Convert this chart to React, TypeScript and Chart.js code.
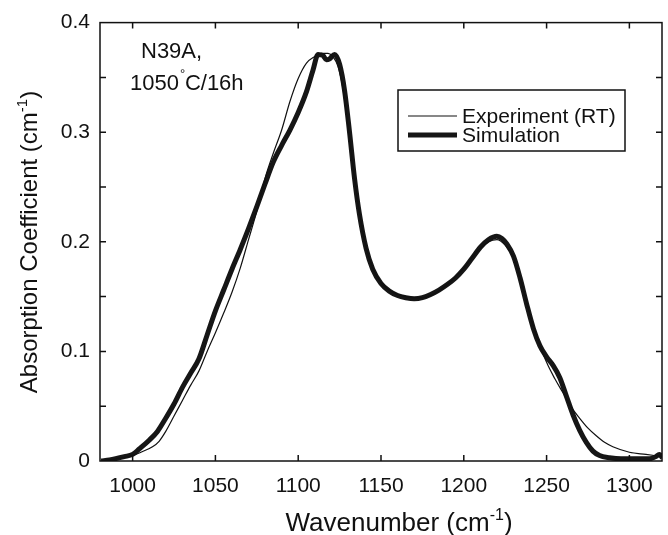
import React, { useEffect, useRef } from "react";
import { Chart, registerables } from "chart.js";

Chart.register(...registerables);

const xTicks = [1000, 1050, 1100, 1150, 1200, 1250, 1300];
const yTicks = [0, 0.1, 0.2, 0.3, 0.4];
const yTickMarks = [0.05, 0.1, 0.15, 0.2, 0.25, 0.3, 0.35];

const simX = [981, 986, 995, 1000, 1004, 1010, 1015, 1020, 1025, 1030, 1035, 1040, 1045, 1050, 1055, 1060, 1065, 1070, 1075, 1080, 1085, 1090, 1095, 1100, 1105, 1109, 1112, 1115, 1117, 1119, 1122, 1125, 1128, 1131, 1134, 1137, 1141, 1145, 1150, 1155, 1160, 1165, 1170, 1175, 1180, 1185, 1190, 1195, 1200, 1205, 1210, 1215, 1220, 1223, 1226, 1230, 1234, 1238, 1242, 1246, 1250, 1254, 1258, 1262, 1266, 1270, 1274, 1278, 1282, 1288, 1295, 1305, 1312, 1316, 1318, 1320];
const simY = [0, 0.001, 0.004, 0.006, 0.011, 0.019, 0.027, 0.039, 0.052, 0.067, 0.080, 0.093, 0.115, 0.137, 0.156, 0.175, 0.193, 0.212, 0.232, 0.253, 0.273, 0.288, 0.302, 0.318, 0.337, 0.357, 0.371, 0.370, 0.366, 0.367, 0.371, 0.362, 0.338, 0.300, 0.258, 0.225, 0.194, 0.175, 0.162, 0.155, 0.151, 0.149, 0.148, 0.149, 0.152, 0.156, 0.161, 0.167, 0.175, 0.185, 0.195, 0.202, 0.205, 0.203, 0.198, 0.187, 0.167, 0.143, 0.121, 0.105, 0.095, 0.087, 0.076, 0.059, 0.042, 0.028, 0.017, 0.009, 0.005, 0.003, 0.002, 0.002, 0.002, 0.004, 0.006, 0.003];

const expX = [981, 990, 1000, 1005, 1012, 1016, 1020, 1025, 1030, 1035, 1040, 1045, 1050, 1055, 1060, 1065, 1070, 1075, 1080, 1085, 1090, 1095, 1100, 1105, 1110, 1114, 1118, 1121, 1124, 1127, 1130, 1134, 1137, 1141, 1145, 1150, 1155, 1160, 1165, 1170, 1175, 1180, 1185, 1190, 1195, 1200, 1205, 1210, 1215, 1220, 1225, 1230, 1235, 1240, 1245, 1250, 1255, 1260, 1265, 1270, 1275, 1280, 1285, 1290, 1300, 1310, 1320];
const expY = [0, 0.002, 0.005, 0.008, 0.013, 0.018, 0.027, 0.041, 0.055, 0.069, 0.082, 0.100, 0.117, 0.135, 0.154, 0.176, 0.202, 0.228, 0.258, 0.281, 0.302, 0.328, 0.349, 0.363, 0.369, 0.372, 0.372, 0.369, 0.360, 0.340, 0.306, 0.258, 0.226, 0.195, 0.176, 0.163, 0.156, 0.152, 0.150, 0.149, 0.149, 0.151, 0.155, 0.161, 0.168, 0.176, 0.186, 0.194, 0.200, 0.202, 0.197, 0.186, 0.162, 0.133, 0.110, 0.090, 0.075, 0.062, 0.049, 0.039, 0.030, 0.023, 0.017, 0.013, 0.008, 0.006, 0.004];

const seriesNames = ["Experiment (RT)", "Simulation"];
const annotation = ["N39A,", "1050", "°", "C/16h"];

const FONT = "'Liberation Sans', Arial, Helvetica, sans-serif";
const TICK_FS = 21;
const XTITLE_FS = 26;
const YTITLE_FS = 24;
const TEXT_FS = 22;
const LEG_FS = 21;

const decorPlugin = {
  id: "decor",
  afterDraw(chart: any) {
    const { ctx, chartArea: a, scales } = chart;
    const xs = scales.x;
    const ys = scales.y;
    ctx.save();
    ctx.strokeStyle = "#111";
    ctx.lineWidth = 1.5;
    ctx.strokeRect(a.left, a.top, a.right - a.left, a.bottom - a.top);
    const tl = 6;
    ctx.beginPath();
    xTicks.forEach((v) => {
      const px = xs.getPixelForValue(v);
      ctx.moveTo(px, a.bottom);
      ctx.lineTo(px, a.bottom - tl);
      ctx.moveTo(px, a.top);
      ctx.lineTo(px, a.top + tl);
    });
    yTickMarks.forEach((v) => {
      const py = ys.getPixelForValue(v);
      ctx.moveTo(a.left, py);
      ctx.lineTo(a.left + tl, py);
      ctx.moveTo(a.right, py);
      ctx.lineTo(a.right - tl, py);
    });
    ctx.stroke();

    ctx.fillStyle = "#111";
    ctx.textBaseline = "alphabetic";
    const drawSup = (parts: [string, boolean][], fs: number, cx: number, cy: number, rotate: boolean) => {
      const supF = `${Math.round(fs * 0.62)}px ${FONT}`;
      const mainF = `${fs}px ${FONT}`;
      ctx.save();
      ctx.translate(cx, cy);
      if (rotate) ctx.rotate(-Math.PI / 2);
      let total = 0;
      parts.forEach(([t, sup]) => {
        ctx.font = sup ? supF : mainF;
        total += ctx.measureText(t).width;
      });
      let x = -total / 2;
      ctx.textAlign = "left";
      parts.forEach(([t, sup]) => {
        ctx.font = sup ? supF : mainF;
        ctx.fillText(t, x, sup ? -fs * 0.42 : 0);
        x += ctx.measureText(t).width;
      });
      ctx.restore();
    };
    drawSup([["Wavenumber (cm", false], ["-1", true], [")", false]], XTITLE_FS, 399, 531, false);
    drawSup([["Absorption Coefficient (cm", false], ["-1", true], [")", false]], YTITLE_FS, 37, 242, true);

    // annotation
    const mainF = `${TEXT_FS}px ${FONT}`;
    ctx.font = mainF;
    ctx.textAlign = "left";
    ctx.fillText(annotation[0], 141, 58);
    let ax = 130;
    const ay = 90;
    ctx.fillText(annotation[1], ax, ay);
    ax += ctx.measureText(annotation[1]).width + 1;
    ctx.font = `${Math.round(TEXT_FS * 0.6)}px ${FONT}`;
    ctx.fillText(annotation[2], ax, ay - TEXT_FS * 0.55);
    ax += ctx.measureText(annotation[2]).width * 0.95;
    ctx.font = mainF;
    ctx.fillText(annotation[3], ax, ay);

    // legend
    const lx = 398, ly = 90, lw = 227, lh = 61;
    ctx.lineWidth = 1.5;
    ctx.strokeStyle = "#111";
    ctx.fillStyle = "#fff";
    ctx.fillRect(lx, ly, lw, lh);
    ctx.strokeRect(lx, ly, lw, lh);
    const rows = [116, 135];
    chart.data.datasets.forEach((ds: any, i: number) => {
      ctx.strokeStyle = ds.borderColor;
      ctx.lineWidth = ds.borderWidth;
      ctx.beginPath();
      ctx.moveTo(408, rows[i]);
      ctx.lineTo(457, rows[i]);
      ctx.stroke();
      ctx.fillStyle = "#111";
      ctx.font = `${LEG_FS}px ${FONT}`;
      ctx.textAlign = "left";
      ctx.textBaseline = "middle";
      ctx.fillText(ds.label, 462, rows[i] + 1);
    });
    ctx.restore();
  },
};

export default function App() {
  const ref = useRef<HTMLCanvasElement | null>(null);
  useEffect(() => {
    document.body.style.margin = "0";
    if (!ref.current) return;
    const chart = new Chart(ref.current, {
      type: "line",
      data: {
        datasets: [
          {
            label: seriesNames[0],
            data: expX.map((x, i) => ({ x, y: expY[i] })),
            borderColor: "#111",
            borderWidth: 1.2,
            pointRadius: 0,
            cubicInterpolationMode: "monotone",
            fill: false,
          },
          {
            label: seriesNames[1],
            data: simX.map((x, i) => ({ x, y: simY[i] })),
            borderColor: "#161616",
            borderWidth: 5,
            pointRadius: 0,
            cubicInterpolationMode: "monotone",
            fill: false,
          },
        ],
      },
      options: {
        animation: false,
        responsive: false,
        maintainAspectRatio: false,
        events: [],
        layout: { padding: { left: 0, right: 6, top: 21, bottom: 0 } },
        plugins: { legend: { display: false }, tooltip: { enabled: false } },
        scales: {
          x: {
            type: "linear",
            min: 980.3,
            max: 1319.7,
            grid: { display: false, drawTicks: false },
            border: { display: false },
            afterBuildTicks: (s: any) => {
              s.ticks = xTicks.map((v) => ({ value: v }));
            },
            afterFit: (s: any) => {
              s.height = 74;
            },
            ticks: {
              autoSkip: false,
              maxRotation: 0,
              padding: 13,
              color: "#111",
              font: { family: FONT, size: TICK_FS },
              callback: (v: any) => String(v),
            },
          },
          y: {
            min: 0,
            max: 0.4,
            grid: { display: false, drawTicks: false },
            border: { display: false },
            afterBuildTicks: (s: any) => {
              s.ticks = yTicks.map((v) => ({ value: v }));
            },
            afterFit: (s: any) => {
              s.width = 100;
            },
            ticks: {
              padding: 10,
              color: "#111",
              font: { family: FONT, size: TICK_FS },
              callback: (v: any) => String(Math.round(v * 10) / 10),
            },
          },
        },
      },
      plugins: [decorPlugin],
    });
    return () => chart.destroy();
  }, []);
  return (
    <div style={{ width: 668, height: 535 }}>
      <canvas ref={ref} width={668} height={535} style={{ display: "block" }} />
    </div>
  );
}
